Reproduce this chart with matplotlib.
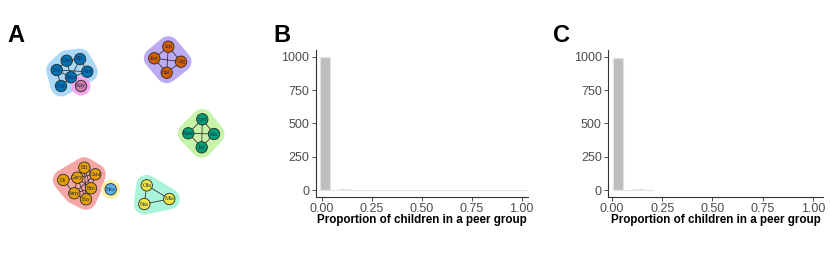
import matplotlib
matplotlib.use("Agg")
import matplotlib.pyplot as plt
import numpy as np
from matplotlib.patches import Polygon, Circle

# ---- panel A: peer network (layout in pixel units of the left panel) ----
names = ["Dan", "Bil", "Fre", "Arn", "Jake", "Col", "Kay",
         "Ian", "Jon", "Gig", "Hal",
         "Lyn", "Kim", "Ida", "Joe",
         "Eli", "Gary", "Cara", "Di", "Bre", "Amy", "Fay", "Hea",
         "Ola", "Mia", "Nia"]
node_x = [66.7, 80.0, 56.7, 87.3, 71.0, 61.0, 81.0,
          168.3, 154.3, 181.0, 166.7,
          202.3, 188.3, 214.0, 201.7,
          84.3, 77.3, 95.3, 63.3, 91.0, 74.3, 86.0, 110.7,
          146.7, 169.3, 144.3]
node_y = [60.7, 59.0, 70.0, 71.7, 77.3, 86.0, 86.0,
          46.7, 58.3, 61.7, 72.7,
          119.3, 133.3, 134.0, 147.3,
          167.7, 177.7, 174.3, 180.0, 188.3, 193.3, 199.3, 189.3,
          185.3, 199.0, 204.0]
node_group = [0, 0, 0, 0, 0, 0, 1,
              2, 2, 2, 2,
              3, 3, 3, 3,
              4, 4, 4, 4, 4, 4, 4, 5,
              6, 6, 6]
node_colors = ["#0072B2", "#CC79A7", "#D55E00", "#009E73", "#E69F00", "#56B4E9", "#F0E442"]
hull_colors = ["#aad8f6", "#f4a9ef", "#bcaaf4", "#c8f4aa", "#f6a6a6", "#fdf0ab", "#aaf5d9"]
edges = [("Dan", "Bil"), ("Dan", "Fre"), ("Dan", "Jake"), ("Fre", "Jake"), ("Fre", "Arn"),
         ("Bil", "Arn"), ("Bil", "Jake"), ("Jake", "Col"), ("Fre", "Col"), ("Jake", "Arn"),
         ("Ian", "Jon"), ("Ian", "Gig"), ("Jon", "Hal"), ("Gig", "Hal"), ("Ian", "Hal"), ("Jon", "Gig"),
         ("Lyn", "Kim"), ("Lyn", "Ida"), ("Kim", "Joe"), ("Ida", "Joe"), ("Lyn", "Joe"), ("Kim", "Ida"),
         ("Di", "Gary"), ("Di", "Amy"), ("Gary", "Eli"), ("Gary", "Cara"), ("Gary", "Bre"),
         ("Gary", "Amy"), ("Gary", "Fay"), ("Eli", "Cara"), ("Eli", "Bre"), ("Cara", "Bre"),
         ("Cara", "Amy"), ("Bre", "Amy"), ("Bre", "Fay"), ("Amy", "Fay"), ("Eli", "Fay"),
         ("Ola", "Mia"), ("Ola", "Nia"), ("Nia", "Mia")]

# ---- panels B and C: histograms ----
bins_b = np.arange(-0.01, 1.05, 0.05)
counts_b = [995, 0, 8, 0, 0, 0, 0, 0, 0, 0, 0, 0, 0, 0, 0, 0, 0, 0, 0, 0, 0]
bins_c = np.arange(0.005, 0.21, 0.05)
counts_c = [990, 0, 10, 2]
y_ticks = [0, 250, 500, 750, 1000]
x_ticks = [0.0, 0.25, 0.5, 0.75, 1.0]
x_labels = ["0.00", "0.25", "0.50", "0.75", "1.00"]


def convex_hull(pts):
    pts = sorted(set(pts))
    if len(pts) <= 2:
        return pts

    def cross(o, a, b):
        return (a[0] - o[0]) * (b[1] - o[1]) - (a[1] - o[1]) * (b[0] - o[0])
    lower, upper = [], []
    for p in pts:
        while len(lower) >= 2 and cross(lower[-2], lower[-1], p) <= 0:
            lower.pop()
        lower.append(p)
    for p in reversed(pts):
        while len(upper) >= 2 and cross(upper[-2], upper[-1], p) <= 0:
            upper.pop()
        upper.append(p)
    return lower[:-1] + upper[:-1]


fig = plt.figure(figsize=(8.3, 2.58), dpi=100)
plt.rcParams["font.family"] = ["Liberation Sans", "DejaVu Sans"]

ax = fig.add_axes([0, 0, 260 / 830, 1])
ax.set_xlim(0, 260)
ax.set_ylim(258, 0)
ax.axis("off")

px_to_pt = 72 / 100
for g in range(len(node_colors)):
    pts = [(node_x[i], node_y[i]) for i in range(len(names)) if node_group[i] == g]
    if len(pts) == 1:
        ax.add_patch(Circle(pts[0], 9.5, facecolor=hull_colors[g], edgecolor="none", zorder=1))
    else:
        hull = convex_hull(pts)
        ax.add_patch(Polygon(hull, closed=True, facecolor=hull_colors[g], edgecolor=hull_colors[g],
                             linewidth=2 * 10.5 * px_to_pt, joinstyle="round", zorder=1))

idx = {n: i for i, n in enumerate(names)}
for a, b in edges:
    ax.plot([node_x[idx[a]], node_x[idx[b]]], [node_y[idx[a]], node_y[idx[b]]],
            color="#333333", lw=0.6, zorder=2)

for i, n in enumerate(names):
    ax.add_patch(Circle((node_x[i], node_y[i]), 5.7, facecolor=node_colors[node_group[i]],
                        edgecolor="#2a2a2a", lw=0.6, zorder=3))
    ax.text(node_x[i], node_y[i], n, ha="center", va="center", fontsize=4.3,
            family=["Liberation Serif", "DejaVu Serif"], color="#1c2a5a", zorder=4)


def hist_panel(rect, edges_, counts, xlim):
    h = fig.add_axes(rect)
    h.bar(edges_[:-1], counts, width=np.diff(edges_), align="edge",
          color="#bebebe", edgecolor="#e3e3e3", linewidth=0.8)
    h.set_xlim(*xlim)
    h.set_ylim(-50, 1050)
    h.set_yticks(y_ticks)
    h.set_xticks(x_ticks)
    h.set_xticklabels(x_labels)
    for s in ["top", "right"]:
        h.spines[s].set_visible(False)
    for s in ["left", "bottom"]:
        h.spines[s].set_color("#333333")
        h.spines[s].set_linewidth(0.8)
    h.tick_params(axis="both", labelsize=9, labelcolor="#4d4d4d", color="#333333",
                  length=3, width=0.6, pad=1.5)
    h.set_xlabel("Proportion of children in a peer group", fontsize=8.4,
                 fontweight="bold", labelpad=-1)
    return h


hist_panel([315.7 / 830, 1 - 196.7 / 258, 212 / 830, 146.7 / 258], bins_b[:len(counts_b) + 1],
           counts_b, (-0.03, 1.03))
hist_panel([608 / 830, 1 - 196.7 / 258, 215 / 830, 146.7 / 258], bins_c[:len(counts_c) + 1],
           counts_c, (-0.02, 1.05))

for lab, xp in [("A", 7), ("B", 273), ("C", 553)]:
    fig.text(xp / 830, 1 - 42 / 258, lab, fontsize=17, fontweight="bold", ha="left", va="baseline")

fig.savefig("out.png", dpi=100)
